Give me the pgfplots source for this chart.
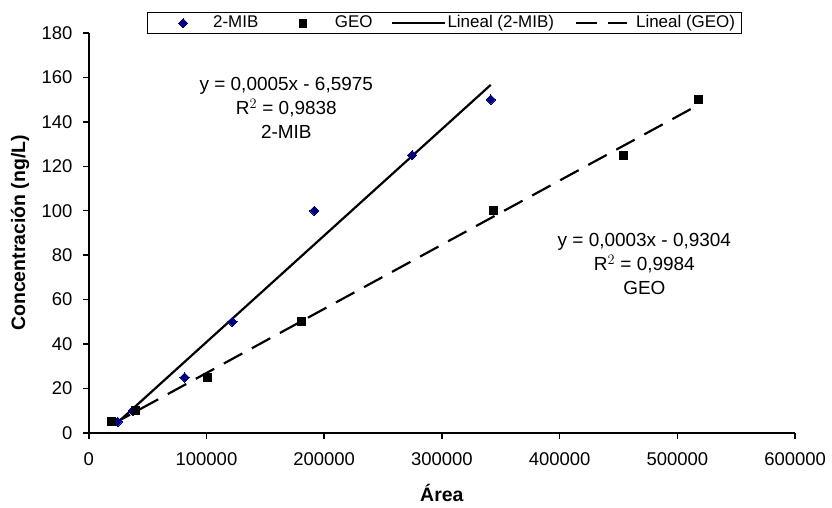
\documentclass[border=0pt]{standalone}
\usepackage{pgfplots}
\usepackage{pgfplotstable}
\pgfplotsset{compat=1.18}
\usepackage{fontspec}
\setmainfont{Liberation Sans}
\definecolor{navyb}{HTML}{000080}

\pgfplotstableread{
x y
24600 5
37300 10
81400 25
122000 50
191500 100
274600 125
341500 150
}\mib
\pgfplotstableread{
x y
19500 5
39800 10
100800 25
180500 50
344000 100
454200 125
517800 150
}\geo

\pgfplotsset{
  legmib/.style={legend image code/.code={\path[draw=none,fill=none] (0pt,0pt) -- (66pt,0pt);\draw[##1] plot coordinates {(36pt,0pt)};}},
  leggeo/.style={legend image code/.code={\path[draw=none,fill=none] (0pt,0pt) -- (75pt,0pt);\draw[##1] plot coordinates {(43pt,0pt)};}},
  legline/.style={legend image code/.code={\path[draw=none,fill=none] (0pt,0pt) -- (73pt,0pt);\draw[##1] (17pt,0pt) -- (70pt,0pt);}},
  legdash/.style={legend image code/.code={\path[draw=none,fill=none] (0pt,0pt) -- (77pt,0pt);\draw[##1] (17pt,0pt) -- (68pt,0pt);}},
}

\begin{document}
\fontsize{18.5}{22}\selectfont
\begin{tikzpicture}
\begin{axis}[
  scale only axis,
  width=708pt, height=401pt,
  xmin=0, xmax=600000, ymin=0, ymax=180,
  axis x line*=bottom, axis y line*=left,
  axis line style={line width=1.8pt, -},
  xtick={0,100000,...,600000},
  ytick={0,20,...,180},
  tick align=outside,
  major tick length=6pt,
  tick style={line width=1.5pt, black},
  minor tick num=0,
  scaled x ticks=false,
  /pgf/number format/assume math mode=true,
  xticklabel style={yshift=-7pt, /pgf/number format/.cd, fixed, set thousands separator={}},
  yticklabel style={xshift=-4pt},
  xlabel={\fontsize{19.5}{22}\selectfont\textbf{Área}},
  ylabel={\fontsize{19.5}{22}\selectfont\textbf{Concentración (ng/L)}},
  xlabel style={yshift=-6pt},
  ylabel style={yshift=0pt},
  clip=false,
  legend columns=4,
  legend style={at={(rel axis cs:0.0819,1.0524)}, anchor=north west,
    draw=black, line width=1.3pt, inner xsep=0pt, inner ysep=3pt,
    font=\fontsize{17}{20}\selectfont,
    nodes={inner sep=0pt},
    column sep=0pt,
    cells={anchor=west}},
]
\addplot[only marks, mark=square*, mark size=3.3pt, navyb,
  mark options={rotate=45, fill=navyb, draw=navyb, line width=0pt}, legmib]
  table[x=x,y=y]{\mib};
\addlegendentry{\makebox[47pt][l]{2-MIB}}
\addplot[only marks, mark=square*, mark size=3.9pt, black,
  mark options={fill=black, line width=0pt}, leggeo]
  table[x=x,y=y]{\geo};
\addlegendentry{\makebox[40pt][l]{GEO}}
\addplot[no marks, black, line width=2.2pt, legline]
  table[x=x, y={create col/linear regression={y=y}}]{\mib};
\addlegendentry{\makebox[112pt][l]{Lineal (2-MIB)}}
\addplot[no marks, black, line width=2.2pt, dash pattern=on 21pt off 11pt, legdash]
  table[x=x, y={create col/linear regression={y=y}}]{\geo};
\addlegendentry{\makebox[106pt][l]{Lineal (GEO)}}

\node[align=center, inner sep=0pt, font=\fontsize{19}{24}\selectfont] at (axis cs:167800,146.3) {y = 0,0005x - 6,5975\\ R$^{2}$ = 0,9838\\ 2-MIB};
\node[align=center, inner sep=0pt, font=\fontsize{19}{24}\selectfont] at (axis cs:472000,75.9) {y = 0,0003x - 0,9304\\ R$^{2}$ = 0,9984\\ GEO};
\end{axis}
\path (current axis.south west) ++(-89pt,-75pt) rectangle ++(832pt,509pt);
\end{tikzpicture}
\end{document}
